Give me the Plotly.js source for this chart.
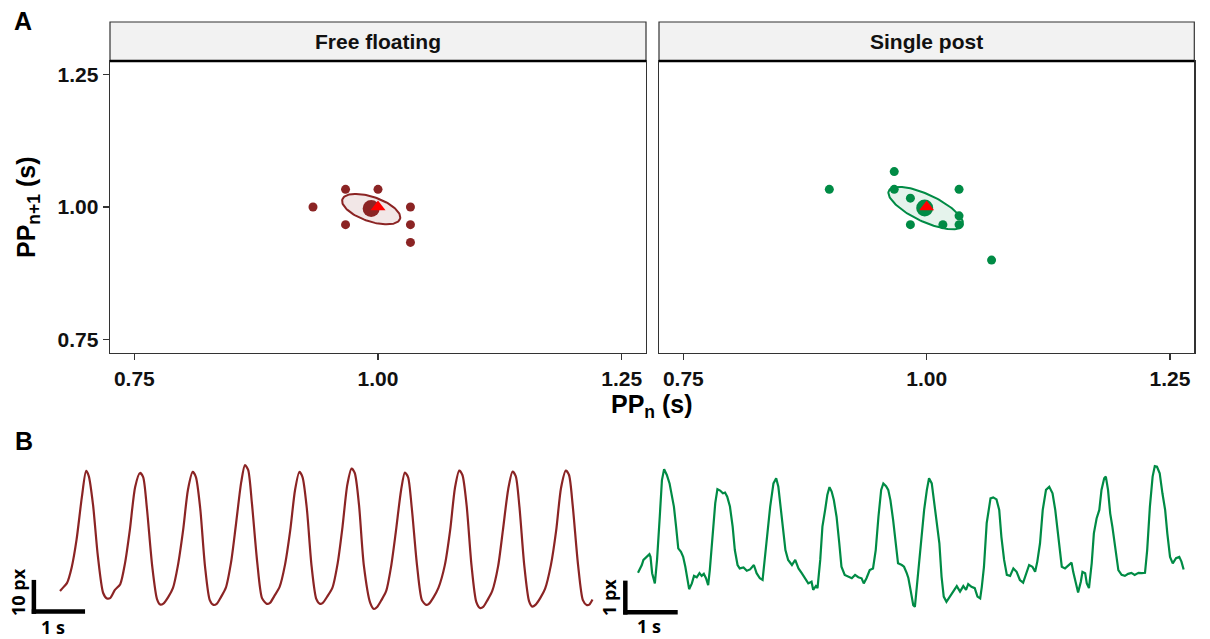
<!DOCTYPE html>
<html>
<head>
<meta charset="utf-8">
<script src="https://cdn.plot.ly/plotly-3.0.1.min.js"></script>
<style>html,body{margin:0;padding:0;background:#fff;}#chart{width:1210px;height:639px;}</style>
</head>
<body>
<div id="chart"></div>
<script>
// ---------------- DATA ----------------
const facetNames = ["Free floating", "Single post"];
const axisTicks = [0.75, 1.00, 1.25];
const axisRange = [0.725, 1.275];

// Poincaré points (PP_n, PP_n+1) in s
const ffX = [0.9667, 1.0000, 0.9333, 0.9667, 1.0333, 1.0333, 1.0333];
const ffY = [1.0333, 1.0333, 1.0000, 0.9667, 1.0000, 0.9667, 0.9333];
const spX = [0.9667, 0.9000, 0.9667, 1.0333, 0.9833, 0.9833, 1.0167, 1.0333, 1.0333, 1.0667];
const spY = [1.0667, 1.0333, 1.0333, 1.0333, 1.0167, 0.9667, 0.9667, 0.9833, 0.9667, 0.9000];
// means and target
const ffMean = [0.993, 0.997];
const spMean = [0.998, 0.998];
const targetPP = [1.0, 1.0];
// ellipse parameters: centre, half-axis vectors (data units)
const ffEllCenter = [0.993, 0.996];
const ffEllU = [0.0296, -0.0184];
const ffEllV = [-0.0040, -0.0219];
const spEllCenter = [0.999, 0.998];
const spEllU = [0.0379, -0.0326];
const spEllV = [-0.0058, -0.0231];

// Panel B traces: time (s), displacement (px)
const redT = [0,0.07,0.13,0.22,0.31,0.41,0.49,0.54,0.62,0.71,0.81,0.88,0.94,1.03,1.13,
  1.22,1.31,1.41,1.50,1.56,1.63,1.73,1.82,1.88,1.94,2.03,2.12,
  2.21,2.31,2.40,2.49,2.55,2.63,2.72,2.81,2.88,2.94,3.02,3.11,
  3.21,3.30,3.40,3.47,3.53,3.60,3.70,3.79,3.88,3.94,4.02,4.12,
  4.22,4.32,4.41,4.49,4.55,4.63,4.72,4.81,4.88,4.93,5.02,5.11,
  5.21,5.30,5.39,5.47,5.53,5.61,5.70,5.82,5.89,5.95,6.03,6.12,
  6.21,6.30,6.40,6.47,6.53,6.60,6.70,6.79,6.87,6.92,7.01,7.10,
  7.22,7.32,7.41,7.49,7.55,7.63,7.72,7.81,7.88,7.94,8.02,8.11,
  8.22,8.31,8.41,8.49,8.55,8.62,8.71,8.80,8.86,8.92,9.01,9.10,
  9.21,9.31,9.40,9.49,9.55,9.62,9.72,9.81,9.88,9.93,9.99];
const redD = [5.6,6.8,7.9,12.6,20.6,33.2,40.9,39.4,30.9,15.9,5.0,3.4,3.5,5.9,7.6,
  13.8,23.5,36.2,40.3,39.1,30.0,12.9,3.2,1.6,1.9,3.8,6.5,
  12.9,23.5,35.3,40.6,39.1,30.0,12.9,2.9,1.5,1.8,3.8,6.5,
  14.1,25.0,37.6,42.6,41.2,31.5,14.1,3.5,1.8,2.1,4.1,6.8,
  13.2,23.5,35.3,40.6,39.1,30.0,12.9,3.2,1.8,2.1,4.1,6.5,
  13.8,24.4,36.8,41.6,40.3,30.9,13.2,2.1,0.3,0.9,2.9,5.6,
  12.6,22.9,35.3,40.4,39.1,30.0,12.9,2.9,1.5,1.8,3.8,6.5,
  13.2,23.5,35.9,41.0,39.7,30.6,13.2,2.4,0.6,0.9,2.9,5.6,
  12.9,23.5,35.6,40.7,39.4,30.3,13.2,2.6,1.0,1.5,3.5,6.2,
  13.2,23.5,35.9,41.0,39.7,30.6,13.2,2.9,1.5,1.6,3.1];
const greenT = [0,0.04,0.07,0.10,0.16,0.21,0.23,0.26,0.31,0.35,
  0.40,0.44,0.48,0.53,0.58,0.62,0.66,0.70,0.74,0.79,
  0.83,0.87,0.91,0.94,0.99,1.03,1.08,1.13,1.17,1.21,
  1.25,1.29,1.32,1.37,1.42,1.46,1.51,1.56,1.60,1.64,
  1.69,1.74,1.78,1.83,1.87,1.94,2.00,2.06,2.13,2.18,
  2.24,2.29,2.32,2.37,2.43,2.49,2.54,2.58,2.62,2.67,
  2.71,2.76,2.83,2.89,2.95,3.01,3.07,3.13,3.19,3.22,
  3.27,3.30,3.35,3.39,3.44,3.48,3.52,3.56,3.60,3.65,
  3.70,3.74,3.80,3.87,3.93,3.99,4.05,4.11,4.15,4.20,
  4.26,4.32,4.37,4.42,4.47,4.51,4.56,4.60,4.64,4.69,
  4.74,4.78,4.85,4.89,4.94,4.97,5.01,5.06,5.09,5.12,
  5.17,5.21,5.26,5.31,5.35,5.40,5.44,5.49,5.54,5.58,
  5.62,5.67,5.73,5.80,5.86,5.92,5.98,6.03,6.07,6.13,
  6.19,6.24,6.29,6.32,6.36,6.41,6.45,6.48,6.53,6.59,
  6.64,6.68,6.73,6.78,6.84,6.90,6.96,7.02,7.08,7.13,
  7.19,7.25,7.30,7.34,7.39,7.44,7.50,7.56,7.62,7.67,
  7.73,7.79,7.85,7.91,7.97,8.00,8.05,8.09,8.14,8.17,
  8.22,8.25,8.29,8.34,8.38,8.43,8.48,8.52,8.57,8.60,
  8.64,8.68,8.72,8.77,8.83,8.89,8.95,9.01,9.07,9.13,
  9.20,9.26,9.32,9.36,9.41,9.46,9.50,9.54,9.59,9.64,
  9.69,9.73,9.78,9.83,9.89,9.95,9.99,10.03];
const greenD = [1.24,1.37,1.47,1.62,1.71,1.79,1.71,1.23,0.93,1.62,
  2.89,3.97,4.29,4.12,3.87,3.58,3.19,2.60,1.96,1.86,
  1.71,1.42,1.03,0.76,0.93,1.15,1.11,1.23,1.15,1.21,
  1.08,0.88,1.32,2.40,3.29,3.70,3.66,3.58,3.60,3.48,
  3.19,2.60,1.91,1.47,1.37,1.40,1.30,1.34,1.47,1.23,
  1.08,1.03,1.52,2.30,3.19,3.87,4.02,3.77,3.24,2.40,
  1.91,1.62,1.47,1.62,1.37,1.23,1.08,0.93,0.98,0.74,
  0.85,0.79,1.62,2.60,3.09,3.53,3.76,3.63,3.38,2.89,
  2.11,1.42,1.18,1.13,1.08,1.18,1.11,1.08,0.93,1.08,
  1.32,1.37,1.91,2.89,3.68,3.87,3.79,3.68,3.38,2.79,
  2.11,1.52,1.47,1.42,1.23,1.09,0.74,0.29,0.24,0.74,
  1.62,2.40,3.09,3.68,4.02,3.87,3.38,2.70,2.11,1.13,
  0.54,0.39,0.54,0.74,0.85,0.69,0.85,0.74,0.91,0.83,
  0.79,0.54,0.49,0.83,1.42,2.70,3.14,3.43,3.46,3.40,
  3.09,2.30,1.62,1.18,1.15,1.37,1.27,1.03,0.95,1.18,
  1.47,1.42,1.27,1.57,2.11,3.09,3.68,3.77,3.58,3.09,
  2.30,1.42,1.37,1.47,1.54,1.27,0.93,0.66,0.98,1.27,
  1.23,0.93,0.79,1.52,2.40,2.84,3.09,3.68,4.02,4.07,
  3.68,2.99,2.60,2.01,1.32,1.18,1.15,1.21,1.24,1.18,
  1.24,1.23,1.24,1.91,3.19,4.07,4.38,4.36,4.17,3.58,
  3.09,2.40,1.71,1.52,1.67,1.71,1.57,1.34];
// scale bars
const scaleTime = 1;      // s
const scaleRedPx = 10;    // px
const scaleGreenPx = 1;   // px
const scaleLabels = ["1 s", "10 px", "1 px"];

// ---------------- STYLE ----------------
const RED = "#8B2424", GREEN = "#008B45";
const W = 1210, H = 639;
const px = x => x / W, py = y => 1 - y / H;
const FONT = "Liberation Sans, Arial, Helvetica, sans-serif";
const SBFONT = "Open Sans, Lato, sans-serif";

function ellipse(c, u, v) {
  const xs = [], ys = [];
  for (let i = 0; i <= 120; i++) {
    const a = 2 * Math.PI * i / 120;
    xs.push(c[0] + Math.cos(a) * u[0] + Math.sin(a) * v[0]);
    ys.push(c[1] + Math.cos(a) * u[1] + Math.sin(a) * v[1]);
  }
  return [xs, ys];
}

function panelTraces(xa, ya, col, fillc, X, Y, mean, ec, eu, ev) {
  const e = ellipse(ec, eu, ev);
  return [
    {x: e[0], y: e[1], xaxis: xa, yaxis: ya, mode: "lines", fill: "toself",
     fillcolor: fillc, line: {color: col, width: 2}, hoverinfo: "skip"},
    {x: X, y: Y, xaxis: xa, yaxis: ya, mode: "markers", marker: {color: col, size: 9}},
    {x: [mean[0]], y: [mean[1]], xaxis: xa, yaxis: ya, mode: "markers", marker: {color: col, size: 17}},
    {x: [targetPP[0]], y: [targetPP[1]], xaxis: xa, yaxis: ya, mode: "markers",
     marker: {color: "#FF0000", size: 13, symbol: "triangle-up"}}
  ];
}

const traces = [
  ...panelTraces("x", "y", RED, "rgba(139,36,36,0.11)", ffX, ffY, ffMean, ffEllCenter, ffEllU, ffEllV),
  ...panelTraces("x2", "y2", GREEN, "rgba(0,139,69,0.10)", spX, spY, spMean, spEllCenter, spEllU, spEllV),
  {x: redT, y: redD, xaxis: "x3", yaxis: "y3", mode: "lines",
   line: {color: RED, width: 2.2, shape: "spline", smoothing: 0.7}},
  {x: greenT, y: greenD, xaxis: "x4", yaxis: "y4", mode: "lines",
   line: {color: GREEN, width: 2.2}}
];

const tickFont = {family: FONT, size: 21, color: "#111", weight: 700};
const baseAx = {
  range: axisRange, tickvals: axisTicks, tickformat: ".2f", showgrid: false, zeroline: false,
  showline: true, linecolor: "#333", linewidth: 1.4, mirror: true,
  ticks: "outside", ticklen: 6, tickwidth: 1.4, tickcolor: "#333", tickfont: tickFont
};
const L = [110, 646], R = [659, 1194.3], T = 61, B = 353;

// panel B axes mapping
const redPxPerS = 53.3, redPxPerUnit = 3.4, redX0 = 60, redY0 = 610;
const grnPxPerS = 54.4, grnPxPerUnit = 34, grnX0 = 638, grnY0 = 615;
const bTop = 455, bBot = 639;
const hid = {visible: false, showgrid: false, zeroline: false, fixedrange: true};

const layout = {
  width: W, height: H, margin: {l: 0, r: 0, t: 0, b: 0},
  paper_bgcolor: "#fff", plot_bgcolor: "#fff", showlegend: false,
  xaxis: {...baseAx, domain: [px(L[0]), px(L[1])], anchor: "y"},
  yaxis: {...baseAx, domain: [py(B), py(T)], anchor: "x"},
  xaxis2: {...baseAx, domain: [px(R[0]), px(R[1])], anchor: "y2"},
  yaxis2: {...baseAx, domain: [py(B), py(T)], anchor: "x2", ticks: "", showticklabels: false},
  xaxis3: {...hid, domain: [px(5), px(598)], anchor: "y3",
           range: [(5 - redX0) / redPxPerS, (598 - redX0) / redPxPerS]},
  yaxis3: {...hid, domain: [py(bBot), py(bTop)], anchor: "x3",
           range: [(redY0 - bBot) / redPxPerUnit, (redY0 - bTop) / redPxPerUnit]},
  xaxis4: {...hid, domain: [px(600), px(1205)], anchor: "y4",
           range: [(600 - grnX0) / grnPxPerS, (1205 - grnX0) / grnPxPerS]},
  yaxis4: {...hid, domain: [py(bBot), py(bTop)], anchor: "x4",
           range: [(grnY0 - bBot) / grnPxPerUnit, (grnY0 - bTop) / grnPxPerUnit]},
  shapes: [
    // strips
    {type: "rect", xref: "paper", yref: "paper", x0: px(L[0]), x1: px(L[1]), y0: py(T), y1: py(22),
     fillcolor: "#F2F2F2", line: {color: "#333", width: 1.2}, layer: "below"},
    {type: "rect", xref: "paper", yref: "paper", x0: px(R[0]), x1: px(R[1]), y0: py(T), y1: py(22),
     fillcolor: "#F2F2F2", line: {color: "#333", width: 1.2}, layer: "below"},
    {type: "line", xref: "paper", yref: "paper", x0: px(L[0]), x1: px(L[1]), y0: py(T), y1: py(T),
     line: {color: "#000", width: 2.6}},
    {type: "line", xref: "paper", yref: "paper", x0: px(R[0]), x1: px(R[1]), y0: py(T), y1: py(T),
     line: {color: "#000", width: 2.6}},
    // scale bars red
    {type: "line", xref: "x3", yref: "y3", x0: -0.53, x1: -0.53 + scaleTime, y0: -0.44, y1: -0.44,
     line: {color: "#000", width: 4.5}},
    {type: "line", xref: "x3", yref: "y3", x0: -0.49, x1: -0.49, y0: -1.15, y1: -1.15 + scaleRedPx,
     line: {color: "#000", width: 4.5}},
    // scale bars green
    {type: "line", xref: "x4", yref: "y4", x0: -0.27, x1: -0.27 + scaleTime, y0: 0.079, y1: 0.079,
     line: {color: "#000", width: 4.5}},
    {type: "line", xref: "x4", yref: "y4", x0: -0.233, x1: -0.233, y0: 0.011, y1: 0.011 + scaleGreenPx,
     line: {color: "#000", width: 4.5}}
  ],
  annotations: [
    {text: facetNames[0], xref: "paper", yref: "paper", x: px((L[0] + L[1]) / 2), y: py(41.5),
     showarrow: false, xanchor: "center", yanchor: "middle",
     font: {family: FONT, size: 21, color: "#111", weight: 700}},
    {text: facetNames[1], xref: "paper", yref: "paper", x: px((R[0] + R[1]) / 2), y: py(41.5),
     showarrow: false, xanchor: "center", yanchor: "middle",
     font: {family: FONT, size: 21, color: "#111", weight: 700}},
    {text: "PP<sub>n</sub> (s)", xref: "paper", yref: "paper", x: px(652), y: py(406),
     showarrow: false, xanchor: "center", yanchor: "middle",
     font: {family: FONT, size: 25, color: "#000", weight: 700}},
    {text: "PP<sub>n+1</sub> (s)", xref: "paper", yref: "paper", x: px(28), y: py(207),
     showarrow: false, xanchor: "center", yanchor: "middle", textangle: -90,
     font: {family: FONT, size: 25, color: "#000", weight: 700}},
    {text: "A", xref: "paper", yref: "paper", x: px(23), y: py(21), showarrow: false,
     xanchor: "center", yanchor: "middle", font: {family: FONT, size: 25, color: "#000", weight: 700}},
    {text: "B", xref: "paper", yref: "paper", x: px(24), y: py(441), showarrow: false,
     xanchor: "center", yanchor: "middle", font: {family: FONT, size: 25, color: "#000", weight: 700}},
    {text: scaleLabels[0], xref: "paper", yref: "paper", x: px(52.5), y: py(627), showarrow: false,
     xanchor: "center", yanchor: "middle", font: {family: SBFONT, size: 18, color: "#000", weight: 700}},
    {text: scaleLabels[1], xref: "paper", yref: "paper", x: px(17.5), y: py(592.5), showarrow: false,
     xanchor: "center", yanchor: "middle", textangle: -90, font: {family: SBFONT, size: 18, color: "#000", weight: 700}},
    {text: scaleLabels[0], xref: "paper", yref: "paper", x: px(649), y: py(626), showarrow: false,
     xanchor: "center", yanchor: "middle", font: {family: SBFONT, size: 18, color: "#000", weight: 700}},
    {text: scaleLabels[2], xref: "paper", yref: "paper", x: px(608.5), y: py(597.5), showarrow: false,
     xanchor: "center", yanchor: "middle", textangle: -90, font: {family: SBFONT, size: 18, color: "#000", weight: 700}}
  ]
};

Plotly.newPlot("chart", traces, layout, {displayModeBar: false, staticPlot: true});
</script>
</body>
</html>
